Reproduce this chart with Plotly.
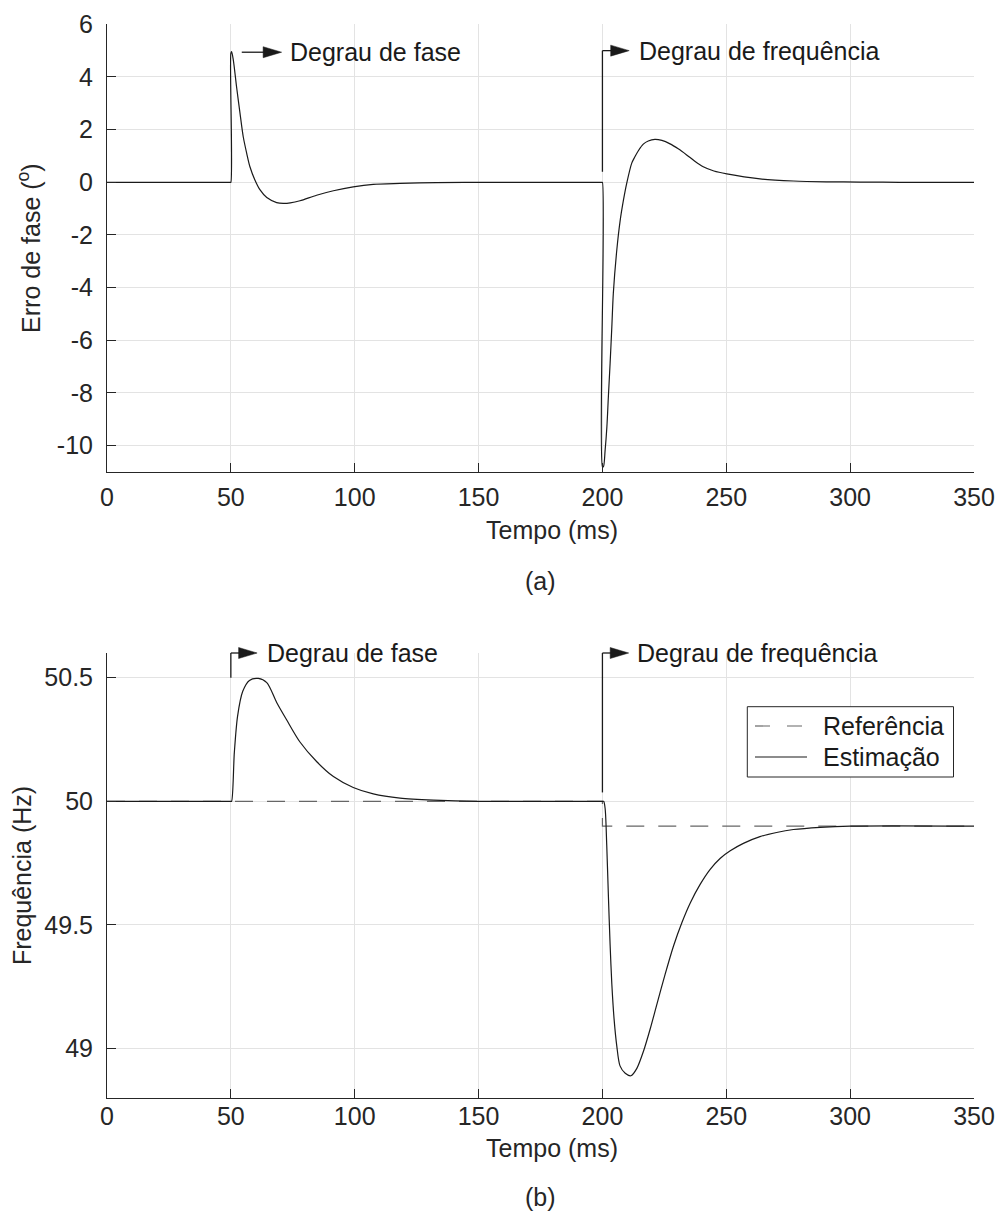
import plotly.graph_objects as go

# ---------------- data ----------------
# (a) phase error, degrees
t_err = [0, 49.7, 50, 50, 50.3, 51.0, 52.3, 53.7, 55.0, 56.4, 57.7, 59.7, 61.8, 64.5,
         68.5, 71.2, 74.0, 77.9, 84.6, 91.4, 99.4, 107.5, 118.3, 133.0, 150.0,
         199.7, 200, 200, 200.4, 201.1, 201.8, 202.4, 203.1, 203.8, 204.4, 205.8, 207.1,
         208.5, 209.8, 211.8, 213.0, 214.5, 216.5, 218.5, 221.2, 224.0, 227.3,
         230.6, 234.0, 237.3, 240.7, 245.0, 250.2, 263.6, 277.1, 290.5, 304.0, 320.0, 350]
err = [0, 0, 0, 4.9, 4.96, 4.64, 3.63, 2.62, 1.73, 1.10, 0.59, 0.09, -0.29, -0.58,
       -0.77, -0.80, -0.78, -0.70, -0.49, -0.32, -0.17, -0.075, -0.04, -0.01, 0,
       0, 0, -10.8, -10.8, -10.16, -9.28, -8.14, -6.87, -5.48, -4.21, -2.57, -1.49,
       -0.67, -0.04, 0.72, 0.95, 1.2, 1.45, 1.57, 1.63, 1.59, 1.46,
       1.27, 1.04, 0.80, 0.59, 0.43, 0.32, 0.13, 0.05, 0.02, 0.01, 0, 0]

# (b) frequency reference and estimate, Hz
t_ref = [0, 200, 200, 350]
f_ref = [50, 50, 49.9, 49.9]

t_est = [0, 49.7, 50, 50.3, 51.4, 52.7, 54.8, 57.5, 61.1, 64.5, 68.5, 72.5, 77.9,
         84.7, 91.4, 99.4, 107.5, 118.3, 131.8, 150, 199.7, 200, 200.5, 201.1, 201.75,
         202.4, 203.1, 203.8, 204.7, 205.8, 207.1, 209.2, 211.5, 213.9, 216.6,
         219.3, 222.0, 225.3, 228.7, 232.1, 235.5, 239.5, 243.5, 247.6, 251.6,
         256.9, 263.6, 270.3, 277.1, 287.9, 300, 350]
f_est = [50, 50, 50, 50.0, 50.197, 50.344, 50.445, 50.489, 50.497, 50.48, 50.40,
         50.33, 50.24, 50.16, 50.10, 50.056, 50.03, 50.013, 50.005, 50, 50, 50, 50.0,
         49.97, 49.82, 49.62, 49.42, 49.26, 49.12, 49.01, 48.93, 48.90, 48.89,
         48.92, 48.99, 49.08, 49.18, 49.30, 49.415, 49.51, 49.59, 49.665, 49.725,
         49.77, 49.80, 49.83, 49.857, 49.874, 49.886, 49.895, 49.9, 49.9]

x_ticks = [0, 50, 100, 150, 200, 250, 300, 350]
x_ticktext = ["0", "50", "100", "150", "200", "250", "300", "350"]
err_ticks = [-10, -8, -6, -4, -2, 0, 2, 4, 6]
err_ticktext = ["-10", "-8", "-6", "-4", "-2", "0", "2", "4", "6"]
f_ticks = [49, 49.5, 50, 50.5]
f_ticktext = ["49", "49.5", "50", "50.5"]

legend_labels = ["Referência", "Estimação"]

# ---------------- figure geometry ----------------
W, H = 1003, 1220
FONT = "Liberation Sans, Arial, Helvetica, sans-serif"
TXT = "#262626"
AX = "#262626"
GRID = "#e3e3e3"
LINE = "#1a1a1a"

def fx(p):
    return p / W

def fy(p):
    return 1 - p / H

x_dom = [fx(107), fx(974)]
x_range = [0, 350]
y1_dom = [fy(472), fy(24.3)]
y1_range = [-11, 6]
y2_dom = [fy(1098), fy(653)]
y2_range = [48.8, 50.6]


def to_px(v, rng, dom):
    """Data value -> paper fraction along one axis."""
    return dom[0] + (v - rng[0]) / (rng[1] - rng[0]) * (dom[1] - dom[0])


fig = go.Figure()

fig.add_trace(go.Scatter(x=t_err, y=err, mode="lines", xaxis="x", yaxis="y",
                         line=dict(color=LINE, width=1.2, shape="spline", smoothing=0.8),
                         showlegend=False))
fig.add_trace(go.Scatter(x=t_ref, y=f_ref, mode="lines", xaxis="x2", yaxis="y2",
                         line=dict(color="#666666", width=1.2, dash="18px,14px"),
                         showlegend=False))
fig.add_trace(go.Scatter(x=t_est, y=f_est, mode="lines", xaxis="x2", yaxis="y2",
                         line=dict(color=LINE, width=1.2, shape="spline", smoothing=0.8),
                         showlegend=False))

axis_common = dict(
    showline=True, linecolor=AX, linewidth=1,
    ticks="inside", ticklen=9, tickwidth=1, tickcolor=AX,
    showgrid=True, gridcolor=GRID, gridwidth=1,
    zeroline=False, mirror=False, automargin=False,
    tickfont=dict(family=FONT, size=25, color=TXT),
)

fig.update_layout(
    width=W, height=H,
    margin=dict(l=0, r=0, t=0, b=0),
    paper_bgcolor="white", plot_bgcolor="white",
    template="none",
    showlegend=False,
    font=dict(family=FONT, size=25, color=TXT),
    xaxis=dict(domain=x_dom, anchor="y", range=x_range, tickvals=x_ticks,
               ticktext=x_ticktext, ticklabelstandoff=3, **axis_common),
    yaxis=dict(domain=y1_dom, anchor="x", range=y1_range, tickvals=err_ticks,
               ticktext=err_ticktext, ticklabelstandoff=8,
               title=dict(text="Erro de fase (<sup>o</sup>)", standoff=9,
                          font=dict(family=FONT, size=25, color=TXT)),
               **axis_common),
    xaxis2=dict(domain=x_dom, anchor="y2", range=x_range, tickvals=x_ticks,
                ticktext=x_ticktext, ticklabelstandoff=-4, **axis_common),
    yaxis2=dict(domain=y2_dom, anchor="x2", range=y2_range, tickvals=f_ticks,
                ticktext=f_ticktext, ticklabelstandoff=8,
                title=dict(text="Frequência (Hz)", standoff=5,
                           font=dict(family=FONT, size=25, color=TXT)),
                **axis_common),
)

# ---------------- callout arrows ----------------
# (x_from, y_from, x_corner, y_level, x_tip, label, label_x, panel)
callouts = [
    (54.4, 4.94, 54.4, 4.94, 70.5, "Degrau de fase", 73.1, 1),
    (200, 0.40, 200, 5.0, 210.8, "Degrau de frequência", 213.8, 1),
    (50, 50.5, 50, 50.6, 60.6, "Degrau de fase", 63.8, 2),
    (200, 50.036, 200, 50.6, 210.6, "Degrau de frequência", 213.2, 2),
]

shapes = []
annotations = []
for x0, y0, xc, yl, xt, label, lx, panel in callouts:
    ydom, yrng = (y1_dom, y1_range) if panel == 1 else (y2_dom, y2_range)
    px0 = to_px(x0, x_range, x_dom)
    pxc = to_px(xc, x_range, x_dom)
    pxt = to_px(xt, x_range, x_dom)
    py0 = to_px(y0, yrng, ydom)
    pyl = to_px(yl, yrng, ydom)
    if abs(py0 - pyl) > 1e-9:
        shapes.append(dict(type="line", xref="paper", yref="paper",
                           x0=px0, y0=py0, x1=pxc, y1=pyl,
                           line=dict(color=LINE, width=1.3)))
    shapes.append(dict(type="line", xref="paper", yref="paper",
                       x0=pxc, y0=pyl, x1=pxt - fx(10), y1=pyl,
                       line=dict(color=LINE, width=1.3)))
    shapes.append(dict(type="path", xref="paper", yref="paper",
                       xsizemode="pixel", ysizemode="pixel",
                       xanchor=pxt, yanchor=pyl,
                       path="M0,0 L-18.5,5.5 L-18.5,-5.5 Z",
                       fillcolor=LINE, line=dict(color=LINE, width=0.5)))
    annotations.append(dict(xref="paper", yref="paper",
                            x=to_px(lx, x_range, x_dom), y=pyl,
                            xanchor="left", yanchor="middle", showarrow=False,
                            text=label, font=dict(family=FONT, size=25, color="#1a1a1a")))

# ---------------- x titles and panel tags ----------------
for ytitle, ytag, tag in [(530, 581, "(a)"), (1148, 1197, "(b)")]:
    annotations.append(dict(xref="paper", yref="paper", x=fx(552), y=fy(ytitle),
                            xanchor="center", yanchor="middle", showarrow=False,
                            text="Tempo (ms)", font=dict(family=FONT, size=25, color=TXT)))
    annotations.append(dict(xref="paper", yref="paper", x=fx(540), y=fy(ytag),
                            xanchor="center", yanchor="middle", showarrow=False,
                            text=tag, font=dict(family=FONT, size=25, color=TXT)))

# ---------------- legend box (panel b) ----------------
shapes.append(dict(type="rect", xref="paper", yref="paper",
                   x0=fx(747.3), x1=fx(953.5), y0=fy(777), y1=fy(706.7),
                   line=dict(color=AX, width=1), fillcolor="white", layer="above"))
legend_rows = [(726, dict(color="#666666", width=1.2, dash="15px,17px")),
               (757, dict(color=LINE, width=1.2))]
for (yrow, lstyle), label in zip(legend_rows, legend_labels):
    shapes.append(dict(type="line", xref="paper", yref="paper",
                       x0=fx(755), x1=fx(807), y0=fy(yrow), y1=fy(yrow),
                       line=lstyle, layer="above"))
    annotations.append(dict(xref="paper", yref="paper", x=fx(821), y=fy(yrow),
                            xanchor="left", yanchor="middle", showarrow=False,
                            text=label, font=dict(family=FONT, size=25, color="#1a1a1a")))

fig.update_layout(shapes=shapes, annotations=annotations)
fig.write_html("out.html")
